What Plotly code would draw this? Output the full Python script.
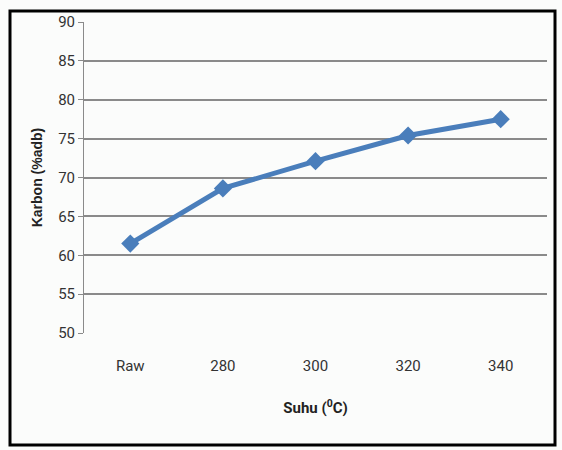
import plotly.graph_objects as go

categories = ["Raw", "280", "300", "320", "340"]
karbon = [61.5, 68.6, 72.1, 75.4, 77.5]
y_ticks = [50, 55, 60, 65, 70, 75, 80, 85, 90]

W, H = 562, 450
L, R, T, B = 84, 15, 22, 117
pw = W - L - R
ph = H - T - B

fig = go.Figure()
fig.add_trace(go.Scatter(
    x=categories, y=karbon, mode="lines+markers",
    line=dict(color="#4a7ebb", width=5),
    marker=dict(symbol="diamond", size=14, color="#4a7ebb"),
    showlegend=False,
))

def px_x(v):
    return (v - L) / pw

def px_y(v):
    return (H - B - v) / ph

fig.add_shape(type="rect", xref="paper", yref="paper",
              x0=px_x(10), x1=px_x(555), y0=px_y(445), y1=px_y(11),
              line=dict(color="black", width=3), fillcolor="rgba(0,0,0,0)", layer="above")

fig.update_layout(
    width=W, height=H,
    margin=dict(l=L, r=R, t=T, b=B),
    paper_bgcolor="#fbfcfb", plot_bgcolor="#fbfcfb",
    font=dict(family="Liberation Sans Narrow, Roboto, Arial", size=14, color="#333"),
    xaxis=dict(
        type="category", range=[-0.5, 4.5], showgrid=False, showline=False, ticks="",
        tickfont=dict(size=15, color="#333"), ticklabelstandoff=22,
        title=dict(text="<b>Suhu (<sup>0</sup>C)</b>", font=dict(size=15, color="#222"), standoff=28),
    ),
    yaxis=dict(
        range=[50, 90], tickvals=y_ticks, showgrid=True, gridcolor="#8a8a8a", gridwidth=1.5,
        showline=True, linecolor="#8a8a8a", linewidth=1, ticks="outside", ticklen=5,
        tickcolor="#8a8a8a", zeroline=False, tickfont=dict(size=15, color="#333"),
        title=dict(text="<b>Karbon (%adb)</b>", font=dict(family="Arial", size=14, color="#222"), standoff=12),
    ),
)

fig.write_html("out.html", config={"displayModeBar": False},
               post_script="document.body.style.margin='0';document.body.style.padding='0';")
